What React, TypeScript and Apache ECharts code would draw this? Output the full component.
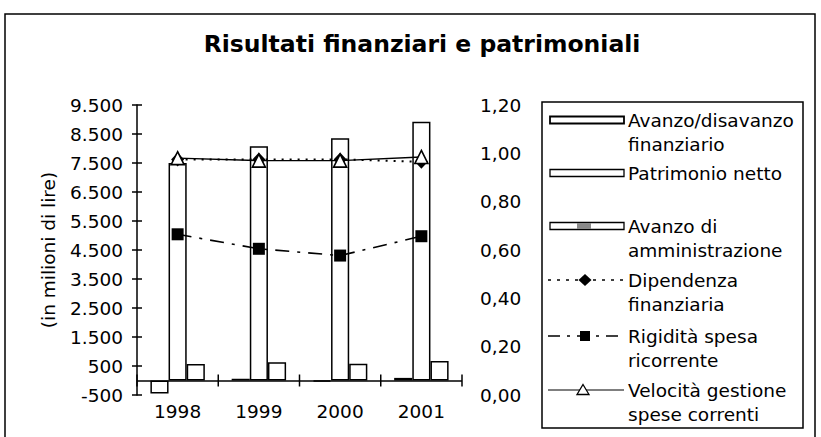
import React, { useEffect, useRef } from 'react';
import * as echarts from 'echarts';

const FONT = 'DejaVu Sans';
const FS = 18.5;

const categories = ['1998', '1999', '2000', '2001'];
const avanzoDisavanzo = [-450, 60, -40, 90];
const patrimonioNetto = [7500, 8080, 8350, 8920];
const avanzoAmministrazione = [570, 630, 580, 670];
const dipendenza = [0.975, 0.975, 0.975, 0.965];
const rigidita = [0.665, 0.605, 0.577, 0.657];
const velocita = [0.98, 0.97, 0.97, 0.985];

const leftMin = -500;
const leftMax = 9500;
const leftInterval = 1000;
const rightMin = 0;
const rightMax = 1.2;
const rightInterval = 0.2;

const titleText = 'Risultati finanziari e patrimoniali';
const yAxisName = '(in milioni di lire)';
const legendLabels = [
  'Avanzo/disavanzo\nfinanziario',
  'Patrimonio netto',
  'Avanzo di\namministrazione',
  'Dipendenza\nfinanziaria',
  'Rigidità spesa\nricorrente',
  'Velocità gestione\nspese correnti',
];
const seriesNames = [
  'Avanzo/disavanzo finanziario',
  'Patrimonio netto',
  'Avanzo di amministrazione',
  'Dipendenza finanziaria',
  'Rigidità spesa ricorrente',
  'Velocità gestione spese correnti',
];

const fmtLeft = (v: number) => {
  const s = Math.abs(v).toString().replace(/\B(?=(\d{3})+(?!\d))/g, '.');
  return (v < 0 ? '-' : '') + s;
};
const fmtRight = (v: number) => v.toFixed(2).replace('.', ',');

function buildLegend() {
  const boxX = 542;
  const boxY = 102;
  const boxW = 261;
  const boxH = 326;
  const rows = [120, 173, 226, 280, 336, 390];
  const iconL = 550;
  const iconR = 624;
  const iconC = 585;
  const textX = 628;
  const els: any[] = [
    {
      type: 'rect',
      shape: { x: boxX, y: boxY, width: boxW, height: boxH },
      style: { fill: '#fff', stroke: '#000', lineWidth: 1.5 },
    },
  ];
  [0, 1, 2].forEach((i) => {
    els.push({
      type: 'rect',
      shape: { x: iconL, y: rows[i] - 3.5, width: iconR - iconL, height: 7 },
      style: { fill: '#fff', stroke: '#000', lineWidth: i === 0 ? 1.8 : 1.3 },
    });
  });
  els.push({
    type: 'rect',
    shape: { x: iconC - 8, y: rows[2] - 3, width: 14, height: 6 },
    style: { fill: '#8a8a8a' },
  });
  els.push({
    type: 'line',
    shape: { x1: iconL - 2, y1: rows[3], x2: iconR, y2: rows[3] },
    style: { stroke: '#000', lineWidth: 1.6, lineDash: [3, 6] },
  });
  els.push({
    type: 'polygon',
    shape: {
      points: [
        [iconC, rows[3] - 6],
        [iconC + 6.5, rows[3]],
        [iconC, rows[3] + 6],
        [iconC - 6.5, rows[3]],
      ],
    },
    style: { fill: '#000' },
  });
  els.push({
    type: 'line',
    shape: { x1: iconL - 2, y1: rows[4], x2: iconR, y2: rows[4] },
    style: { stroke: '#000', lineWidth: 1.6, lineDash: [12, 7, 3, 7] },
  });
  els.push({
    type: 'rect',
    shape: { x: iconC - 5, y: rows[4] - 5, width: 10, height: 10 },
    style: { fill: '#000' },
  });
  els.push({
    type: 'line',
    shape: { x1: iconL - 2, y1: rows[5], x2: iconR, y2: rows[5] },
    style: { stroke: '#000', lineWidth: 1.2 },
  });
  els.push({
    type: 'polygon',
    shape: {
      points: [
        [iconC - 2, rows[5] - 5.5],
        [iconC + 4, rows[5] + 4.5],
        [iconC - 8, rows[5] + 4.5],
      ],
    },
    style: { fill: '#fff', stroke: '#000', lineWidth: 1.3 },
  });
  legendLabels.forEach((t, i) => {
    els.push({
      type: 'text',
      style: {
        text: t,
        x: textX,
        y: rows[i] - 12,
        fill: '#000',
        fontSize: FS,
        fontFamily: FONT,
        lineHeight: 24,
        align: 'left',
        verticalAlign: 'top',
      },
    });
  });
  return els;
}

export default function App() {
  const ref = useRef<HTMLDivElement>(null);
  useEffect(() => {
    if (!ref.current) return;
    const chart = echarts.init(ref.current, undefined, { renderer: 'svg' });
    const axisLineStyle = { color: '#000', width: 1.5 };
    const barItem = { color: '#fff', borderColor: '#000', borderWidth: 1.5 };
    const option: any = {
      animation: false,
      backgroundColor: '#fff',
      textStyle: { fontFamily: FONT },
      title: {
        text: titleText,
        left: 417,
        top: 27,
        textAlign: 'center',
        textStyle: { fontFamily: FONT, fontSize: 23.5, fontWeight: 'bold', color: '#000' },
      },
      grid: { left: 137, right: 359, top: 105, bottom: 42 },
      xAxis: [
        {
          type: 'category',
          data: categories,
          axisLine: { show: false, onZero: false },
          axisTick: { show: false },
          axisLabel: { margin: 7, fontSize: FS, color: '#000', fontFamily: FONT },
          splitLine: { show: false },
        },
      ],
      yAxis: [
        {
          type: 'value',
          min: leftMin,
          max: leftMax,
          interval: leftInterval,
          name: yAxisName,
          nameLocation: 'middle',
          nameGap: 79,
          nameTextStyle: { fontSize: FS, color: '#000', fontFamily: FONT },
          axisLine: { show: true, onZero: false, lineStyle: axisLineStyle },
          axisTick: { show: true, length: 5, lineStyle: axisLineStyle },
          axisLabel: { margin: 14, fontSize: FS, color: '#000', fontFamily: FONT, formatter: fmtLeft },
          splitLine: { show: false },
        },
        {
          type: 'value',
          position: 'right',
          min: rightMin,
          max: rightMax,
          interval: rightInterval,
          axisLine: { show: false, onZero: false },
          axisTick: { show: false },
          axisLabel: { margin: 18, fontSize: FS, color: '#000', fontFamily: FONT, formatter: fmtRight },
          splitLine: { show: false },
        },
        {
          type: 'value',
          position: 'left',
          min: leftMin,
          max: leftMax,
          interval: leftInterval,
          axisLine: { show: false, onZero: false },
          axisTick: { show: true, inside: true, length: 5, lineStyle: axisLineStyle },
          axisLabel: { show: false },
          splitLine: { show: false },
        },
      ],
      series: [
        {
          name: seriesNames[0],
          type: 'bar',
          data: avanzoDisavanzo,
          barGap: '0%',
          barCategoryGap: '33%',
          itemStyle: barItem,
          markLine: {
            silent: true,
            symbol: ['none', 'none'],
            label: { show: false },
            lineStyle: { color: '#000', width: 1.5, type: 'solid' },
            data: [{ yAxis: 0 }],
          },
        },
        {
          name: seriesNames[1],
          type: 'bar',
          data: patrimonioNetto,
          barGap: '0%',
          barCategoryGap: '33%',
          itemStyle: barItem,
        },
        {
          name: seriesNames[2],
          type: 'bar',
          data: avanzoAmministrazione,
          barGap: '0%',
          barCategoryGap: '33%',
          itemStyle: barItem,
        },
        {
          name: 'zero-axis ticks',
          type: 'custom',
          silent: true,
          z: 5,
          data: categories.map((_, i) => [i, 0]),
          renderItem: (params: any, api: any) => {
            const idx = api.value(0);
            const p = api.coord([idx, 0]);
            const w = api.size([1, 0])[0];
            const children: any[] = [];
            const xs = [p[0] + w / 2];
            if (idx === 0) xs.push(p[0] - w / 2);
            xs.forEach((x) => {
              children.push({
                type: 'line',
                shape: { x1: x, y1: p[1] - 6, x2: x, y2: p[1] + 6 },
                style: { stroke: '#000', lineWidth: 1.5 },
              });
            });
            return { type: 'group', children };
          },
        },
        {
          name: seriesNames[3],
          type: 'line',
          yAxisIndex: 1,
          data: dipendenza,
          symbol: 'diamond',
          symbolSize: [13, 14],
          itemStyle: { color: '#000' },
          lineStyle: { color: '#000', width: 2, type: [2, 6] },
          z: 6,
        },
        {
          name: seriesNames[4],
          type: 'line',
          yAxisIndex: 1,
          data: rigidita,
          symbol: 'rect',
          symbolSize: 12,
          itemStyle: { color: '#000' },
          lineStyle: { color: '#000', width: 1.6, type: [14, 8, 3, 8] },
          z: 6,
        },
        {
          name: seriesNames[5],
          type: 'line',
          yAxisIndex: 1,
          data: velocita,
          symbol: 'triangle',
          symbolSize: 13,
          itemStyle: { color: '#fff', borderColor: '#000', borderWidth: 1.6 },
          lineStyle: { color: '#000', width: 1.4 },
          z: 6,
        },
      ],
      graphic: [
        {
          type: 'rect',
          shape: { x: 5, y: 14, width: 810, height: 440 },
          style: { fill: 'none', stroke: '#000', lineWidth: 1.5 },
          silent: true,
        },
        ...buildLegend(),
      ],
    };
    chart.setOption(option);
    return () => chart.dispose();
  }, []);
  return (
    <div
      ref={ref}
      style={{ position: 'fixed', left: 0, top: 0, width: 821, height: 437 }}
    />
  );
}
